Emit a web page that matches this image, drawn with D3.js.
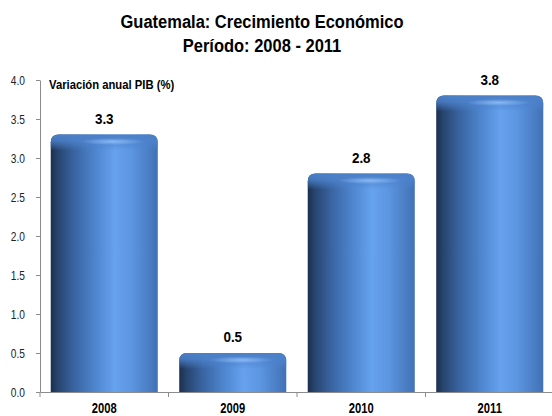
<!DOCTYPE html>
<html><head><meta charset="utf-8">
<script src="https://cdn.jsdelivr.net/npm/d3@7"></script>
<style>
html,body{margin:0;padding:0;background:#fff;}
text{font-family:"Liberation Sans",Arial,sans-serif;}
</style></head>
<body>
<svg id="chart" width="552" height="416"></svg>
<script>
const years = ["2008","2009","2010","2011"];
const values = [3.3, 0.5, 2.8, 3.8];
const yTicks = [0,0.5,1,1.5,2,2.5,3,3.5,4];
const titleLines = ["Guatemala: Crecimiento Económico","Período: 2008 - 2011"];
const yLabel = "Variación anual PIB (%)";

const svg = d3.select("#chart");
const x = d3.scaleBand().domain(years).range([40,554]).paddingInner(0.167).paddingOuter(0.0835);
const y = d3.scaleLinear().domain([0,4]).range([392,80]);

// condensed text helper: places text at (px,py) with horizontal compression sx
function placeText(sel, px, py, sx){
  sel.attr("x",0).attr("y",0).attr("transform",`translate(${px},${py}) scale(${sx},1)`);
}

const defs = svg.append("defs");
const hg = defs.append("linearGradient").attr("id","hg").attr("x1","0").attr("x2","1").attr("y1","0").attr("y2","0");
[[0,"#1b2f4f"],[0.07,"#27466f"],[0.22,"#3a64a2"],[0.42,"#4e86cf"],[0.6,"#67a2ef"],[0.76,"#5c95e0"],[1,"#4171b5"]]
  .forEach(([o,c])=>hg.append("stop").attr("offset",o).attr("stop-color",c));
const vg = defs.append("linearGradient").attr("id","vg").attr("x1","0").attr("x2","0").attr("y1","0").attr("y2","1");
[[0,"#4b7fc6",1],[0.4,"#4d83cd",0.8],[1,"#4d83cd",0]]
  .forEach(([o,c,a])=>vg.append("stop").attr("offset",o).attr("stop-color",c).attr("stop-opacity",a));
const rg = defs.append("radialGradient").attr("id","rg");
rg.append("stop").attr("offset",0).attr("stop-color","#9cc8ff").attr("stop-opacity",0.75);
rg.append("stop").attr("offset",1).attr("stop-color","#9cc8ff").attr("stop-opacity",0);

const r = 8;
function barPath(x0,w,top,bottom){
  return `M${x0},${bottom}V${top+r}Q${x0},${top} ${x0+r},${top}H${x0+w-r}Q${x0+w},${top} ${x0+w},${top+r}V${bottom}Z`;
}
const bars = svg.append("g");
years.forEach((yr,i)=>{
  const x0 = x(yr), w = x.bandwidth(), top = y(values[i]), bottom = y(0);
  bars.append("path").attr("d",barPath(x0,w,top,bottom)).attr("fill","url(#hg)");
  const capH = Math.min(16, bottom-top);
  bars.append("path").attr("d",barPath(x0,w,top,top+capH)).attr("fill","url(#vg)");
  bars.append("ellipse").attr("cx",x0+w*0.58).attr("cy",top+7).attr("rx",w*0.3).attr("ry",3.5).attr("fill","url(#rg)");
  const t = svg.append("text").attr("text-anchor","middle")
    .attr("font-size",15).attr("font-weight","bold").attr("fill","#000").text(values[i].toFixed(1));
  placeText(t, x0+w/2, top-11, 0.9);
});

// y axis
const ya = svg.append("g").attr("transform","translate(40,0)")
  .call(d3.axisLeft(y).tickValues(yTicks).tickFormat(d3.format(".1f")).tickSize(4).tickSizeOuter(0).tickPadding(11));
ya.select(".domain").attr("stroke","#8c8c8c");
ya.selectAll(".tick line").attr("stroke","#8c8c8c");
ya.selectAll(".tick text").attr("font-size",12).attr("fill","#222").attr("font-family",null)
  .attr("x",null).attr("dy",null)
  .attr("transform","translate(-15,4.3) scale(0.85,1)");

// x axis
const xa = svg.append("g").attr("transform","translate(0,392)")
  .call(d3.axisBottom(x).tickSize(0).tickSizeOuter(0));
xa.select(".domain").attr("stroke","#8c8c8c");
xa.selectAll(".tick text").attr("font-size",14).attr("font-weight","bold").attr("fill","#000").attr("font-family",null)
  .attr("dy",null).attr("y",null).attr("transform","translate(0,21) scale(0.8,1)");
const bounds = years.map(yr=>x(yr)-x.step()*x.paddingInner()/2).concat([x.range()[1]]);
xa.selectAll(".bt").data(bounds).enter().append("line").attr("class","bt")
  .attr("x1",d=>d).attr("x2",d=>d).attr("y1",0).attr("y2",5).attr("stroke","#8c8c8c");

const yl = svg.append("text").attr("font-size",12).attr("font-weight","bold").attr("fill","#000").text(yLabel);
placeText(yl, 49, 89, 0.94);

svg.selectAll(".title").data(titleLines).enter().append("text").attr("class","title")
  .attr("text-anchor","middle").attr("font-size",18).attr("font-weight","bold").attr("fill","#000").text(d=>d)
  .each(function(d,i){ placeText(d3.select(this), 262, 28+i*24, 0.916); });
</script>
</body></html>
